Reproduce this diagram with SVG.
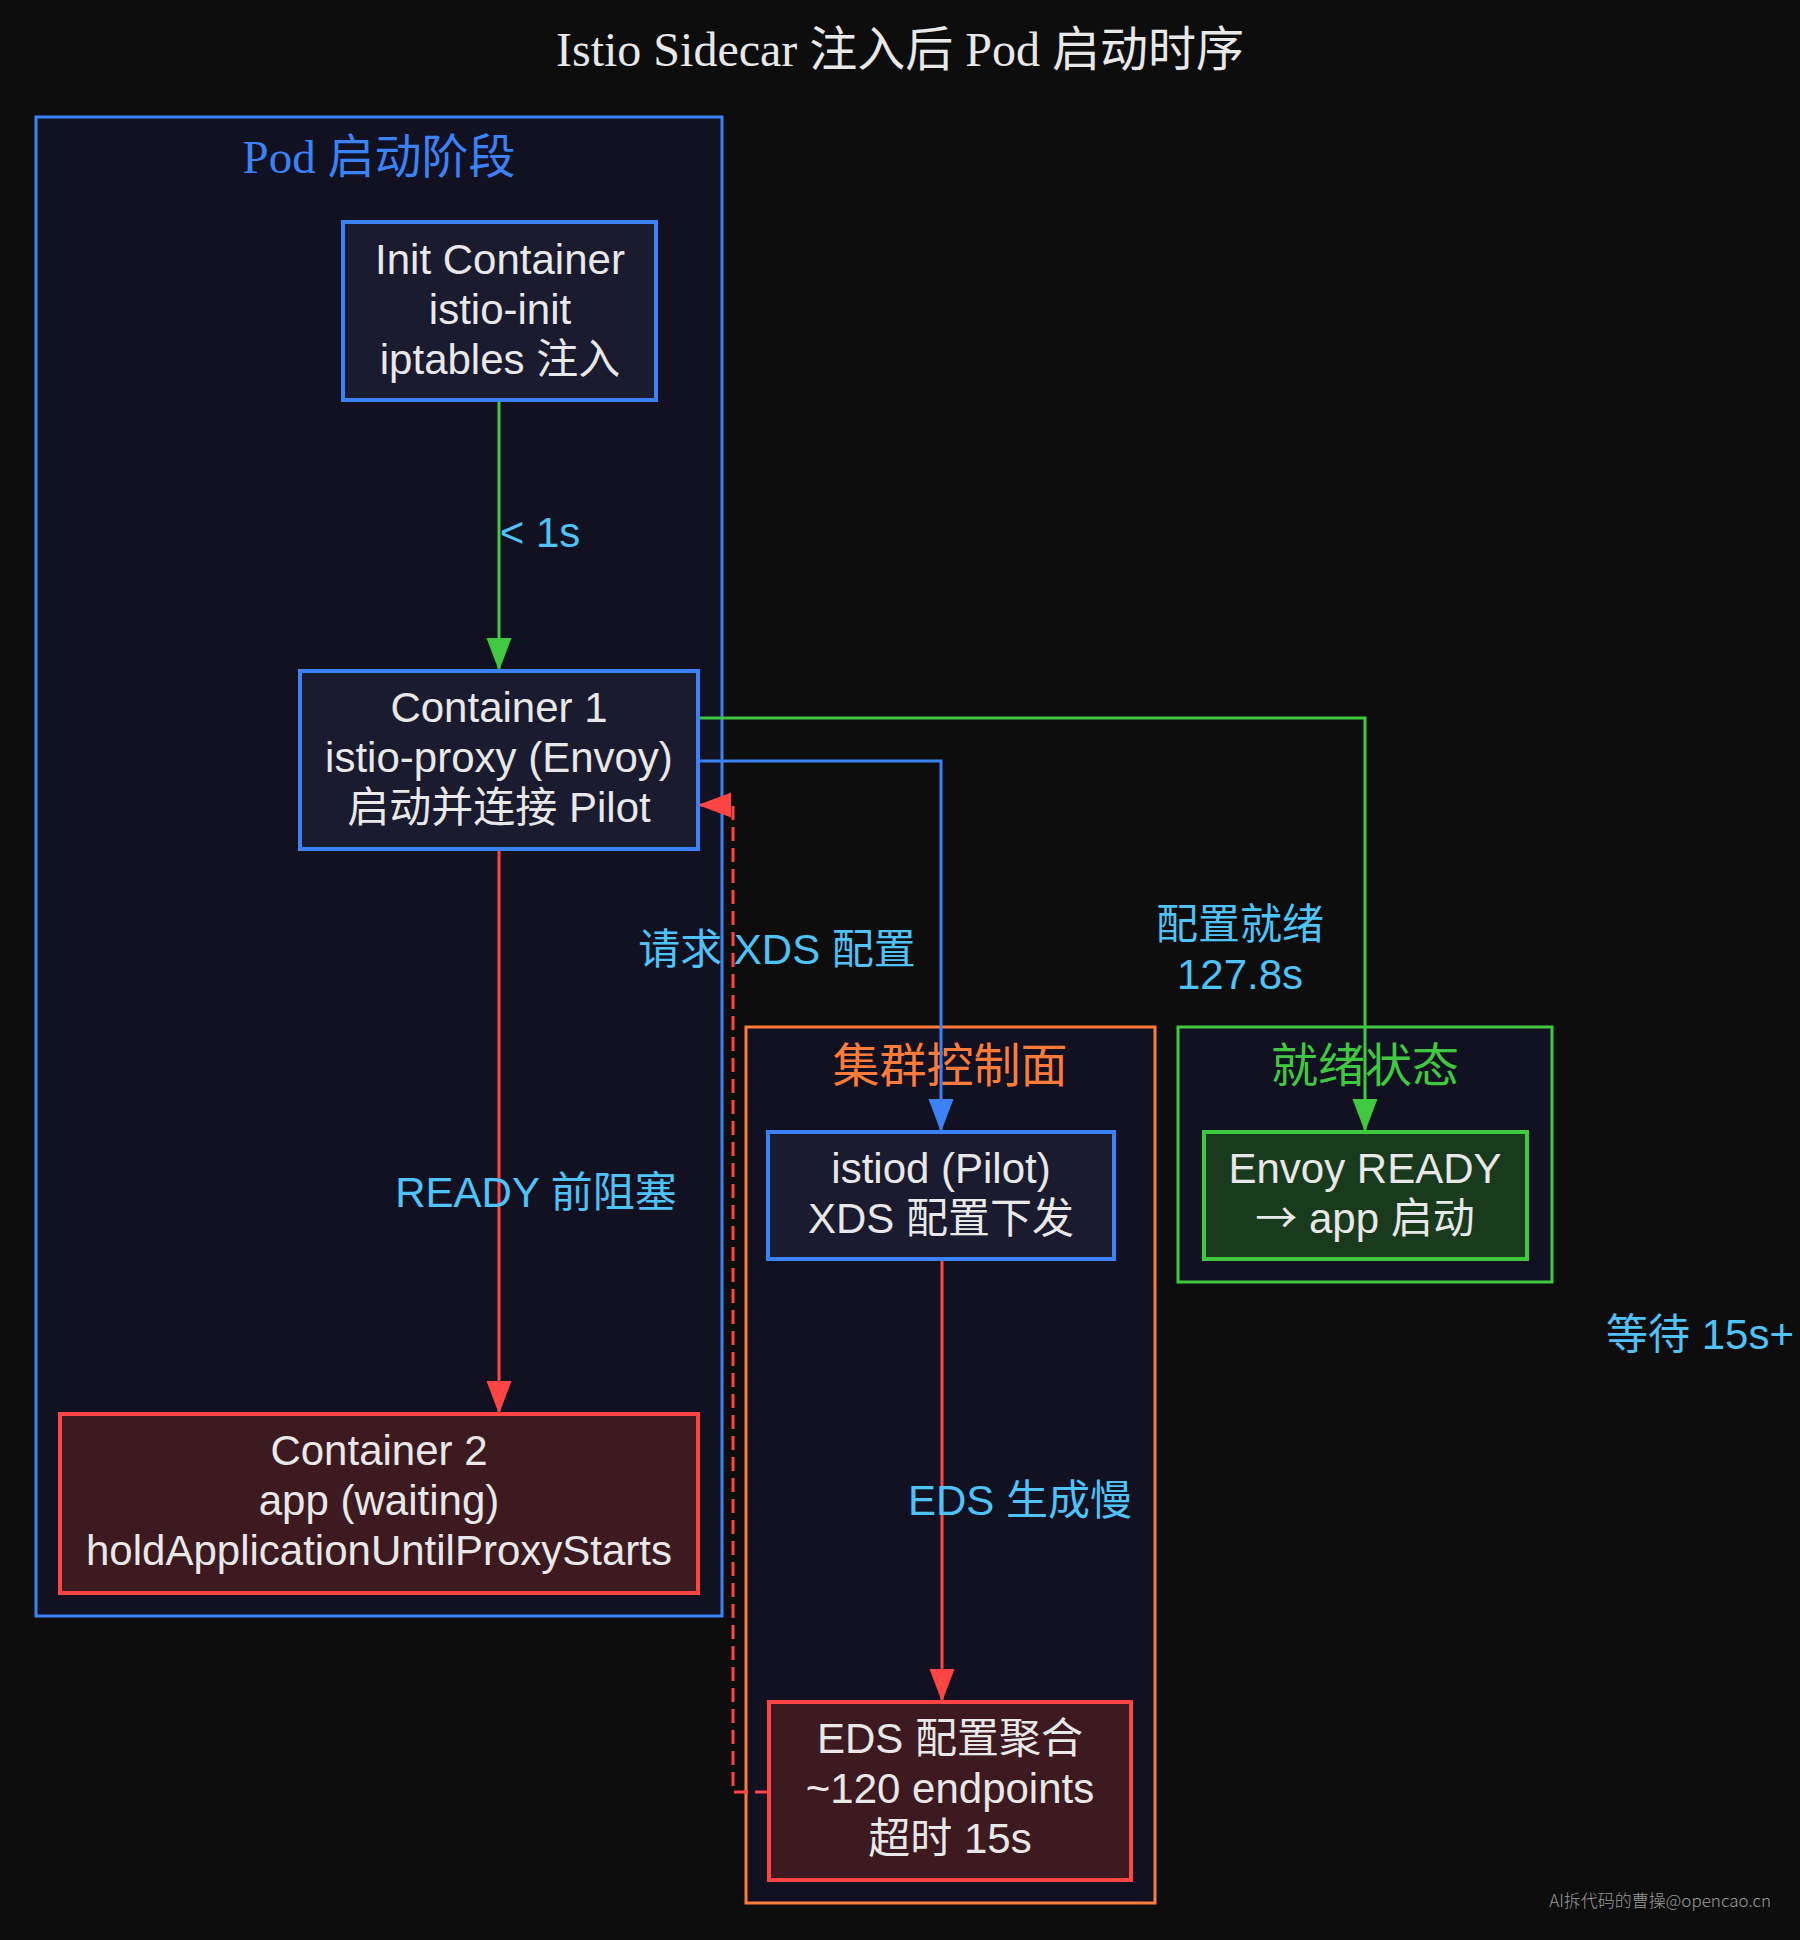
<svg xmlns="http://www.w3.org/2000/svg" width="1800" height="1940" viewBox="0 0 1800 1940">
<defs>
<style>
.title{font-family:"Liberation Serif","Noto Sans CJK SC",serif;font-size:48px;fill:#e8e8e8;text-anchor:middle}
.clabel{font-family:"Liberation Serif","Noto Sans CJK SC",serif;font-size:47px;text-anchor:middle}
.cluster{fill:#111122;stroke-width:3}
.node{stroke-width:4}
.ntext{font-family:"Liberation Sans","Noto Sans CJK SC",sans-serif;font-size:42px;fill:#e8e8e8;text-anchor:middle}
.elabel{font-family:"Liberation Sans","Noto Sans CJK SC",sans-serif;font-size:42px;fill:#4fc3f7;text-anchor:middle}
.edge{fill:none;stroke-width:3}
.wm{font-family:"Noto Sans CJK SC",sans-serif;font-size:17px;font-weight:300;fill:#9a9a9a;text-anchor:end}
</style>
<marker id="ag" markerUnits="userSpaceOnUse" markerWidth="34" markerHeight="26" refX="33" refY="12.5" orient="auto"><path d="M0,0 L33,12.5 L0,25 z" fill="#40c840"/></marker>
<marker id="ab" markerUnits="userSpaceOnUse" markerWidth="34" markerHeight="26" refX="33" refY="12.5" orient="auto"><path d="M0,0 L33,12.5 L0,25 z" fill="#3b82f6"/></marker>
<marker id="ar" markerUnits="userSpaceOnUse" markerWidth="34" markerHeight="26" refX="33" refY="12.5" orient="auto"><path d="M0,0 L33,12.5 L0,25 z" fill="#ff4444"/></marker>
</defs>
<rect x="0" y="0" width="1800" height="1940" fill="#0d0d0d"/>
<text class="title" x="900" y="66">Istio Sidecar 注入后 Pod 启动时序</text>

<g id="cluster_pod">
<rect class="cluster" x="36" y="117" width="686" height="1499" stroke="#3b82f6"/>
<text class="clabel" x="379" y="173" fill="#3b82f6">Pod 启动阶段</text>
</g>
<g id="cluster_control">
<rect class="cluster" x="746" y="1027" width="409" height="876" stroke="#ff7b3a"/>
<text class="clabel" x="950" y="1082" fill="#ff7b3a">集群控制面</text>
</g>
<g id="cluster_ready">
<rect class="cluster" x="1178" y="1027" width="374" height="255" stroke="#40c840"/>
<text class="clabel" x="1365" y="1082" fill="#40c840">就绪状态</text>
</g>

<g id="edges">
<path class="edge" d="M499,400 V671" stroke="#40c840" marker-end="url(#ag)"/>
<path class="edge" d="M698,718 H1365 V1132" stroke="#40c840" marker-end="url(#ag)"/>
<path class="edge" d="M698,761 H941 V1132" stroke="#3b82f6" marker-end="url(#ab)"/>
<path class="edge" d="M499,849 V1414" stroke="#ff4444" marker-end="url(#ar)"/>
<path class="edge" d="M942,1259 V1702" stroke="#ff4444" marker-end="url(#ar)"/>
<path class="edge" d="M769,1792 H733 V805 H698" stroke="#ff4444" stroke-dasharray="14,7" marker-end="url(#ar)"/>
<text class="elabel" x="540" y="547">&lt; 1s</text>
<text class="elabel" x="777" y="964">请求 XDS 配置</text>
<text class="elabel" x="1240" y="939">配置就绪</text>
<text class="elabel" x="1240" y="989">127.8s</text>
<text class="elabel" x="536" y="1207">READY 前阻塞</text>
<text class="elabel" x="1020" y="1515">EDS 生成慢</text>
<text class="elabel" x="1700" y="1349">等待 15s+</text>
</g>

<g id="init">
<rect class="node" x="343" y="222" width="313" height="178" fill="#1a1b2e" stroke="#3b82f6"/>
<text class="ntext" x="500" y="274">Init Container</text>
<text class="ntext" x="500" y="324">istio-init</text>
<text class="ntext" x="500" y="374">iptables 注入</text>
</g>
<g id="container1">
<rect class="node" x="300" y="671" width="398" height="178" fill="#1a1b2e" stroke="#3b82f6"/>
<text class="ntext" x="499" y="722">Container 1</text>
<text class="ntext" x="499" y="772">istio-proxy (Envoy)</text>
<text class="ntext" x="499" y="822">启动并连接 Pilot</text>
</g>
<g id="container2">
<rect class="node" x="60" y="1414" width="638" height="179" fill="#3d1a20" stroke="#ff4444"/>
<text class="ntext" x="379" y="1465">Container 2</text>
<text class="ntext" x="379" y="1515">app (waiting)</text>
<text class="ntext" x="379" y="1565">holdApplicationUntilProxyStarts</text>
</g>
<g id="istiod">
<rect class="node" x="768" y="1132" width="346" height="127" fill="#1a1b2e" stroke="#3b82f6"/>
<text class="ntext" x="941" y="1183">istiod (Pilot)</text>
<text class="ntext" x="941" y="1233">XDS 配置下发</text>
</g>
<g id="eds">
<rect class="node" x="769" y="1702" width="362" height="178" fill="#3d1a20" stroke="#ff4444"/>
<text class="ntext" x="950" y="1753">EDS 配置聚合</text>
<text class="ntext" x="950" y="1803">~120 endpoints</text>
<text class="ntext" x="950" y="1853">超时 15s</text>
</g>
<g id="envoy_ready">
<rect class="node" x="1204" y="1132" width="323" height="127" fill="#1a3a1e" stroke="#40c840"/>
<text class="ntext" x="1365" y="1183">Envoy READY</text>
<text class="ntext" x="1365" y="1233"><tspan font-family="Noto Sans CJK SC, sans-serif">→</tspan> app 启动</text>
</g>

<text class="wm" x="1771" y="1907">AI拆代码的曹操@opencao.cn</text>
</svg>
